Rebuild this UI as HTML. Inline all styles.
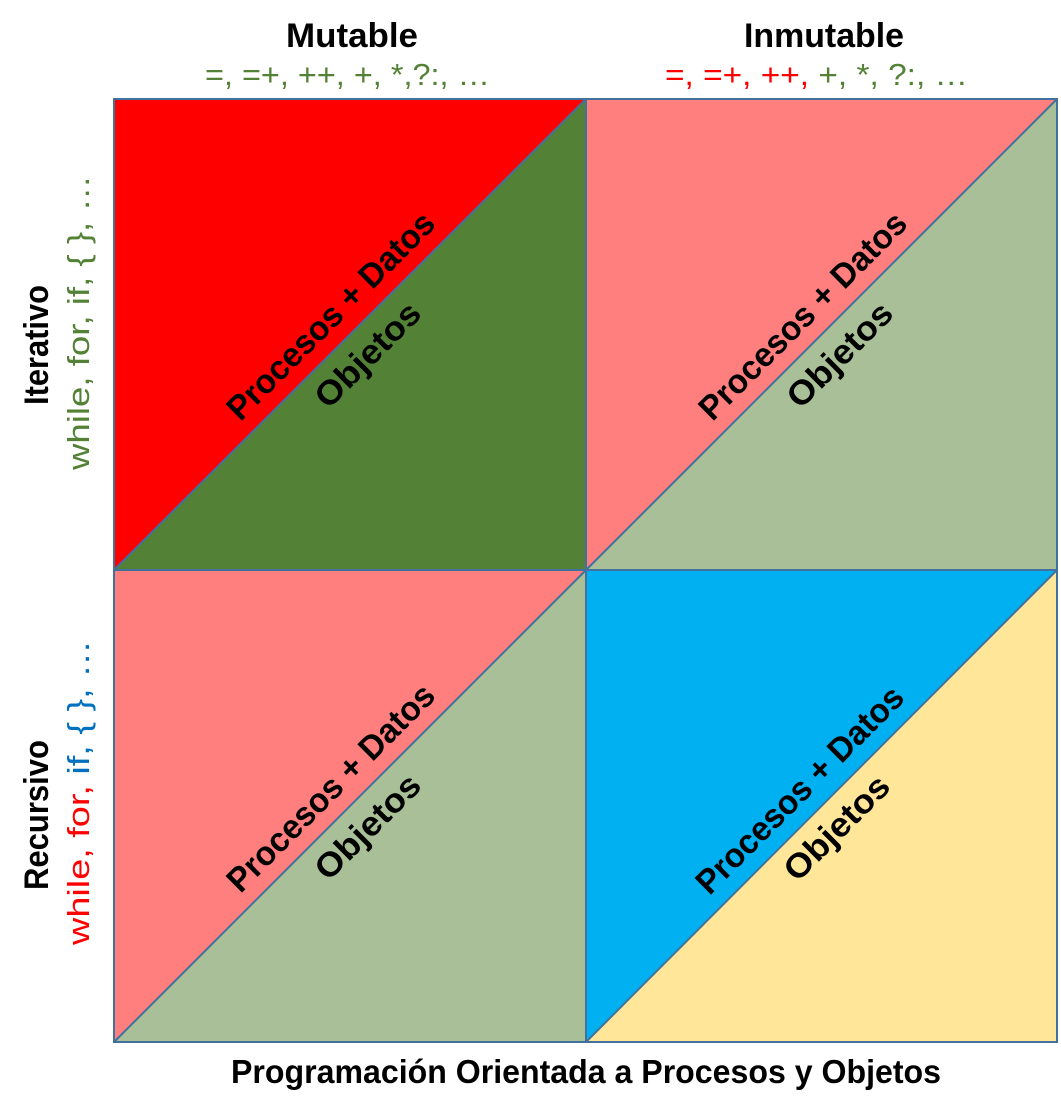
<!DOCTYPE html>
<html><head><meta charset="utf-8"><style>html,body{margin:0;padding:0;background:#fff}svg{display:block}</style></head>
<body>
<svg width="1061" height="1116" viewBox="0 0 1061 1116" xmlns="http://www.w3.org/2000/svg" font-family="'Liberation Sans', sans-serif">
<polygon points="114,99 586,99 114,570" fill="#ff0000"/>
<polygon points="586,99 586,570 114,570" fill="#538135"/>
<polygon points="586,99 1057,99 586,570" fill="#ff7f7f"/>
<polygon points="1057,99 1057,570 586,570" fill="#a9bf98"/>
<polygon points="114,570 586,570 114,1042" fill="#ff7f7f"/>
<polygon points="586,570 586,1042 114,1042" fill="#a9bf98"/>
<polygon points="586,570 1057,570 586,1042" fill="#00b0f0"/>
<polygon points="1057,570 1057,1042 586,1042" fill="#ffe699"/>
<g stroke="#41719c" stroke-width="2" fill="none">
<rect x="114" y="99" width="943" height="943"/>
<line x1="586" y1="99" x2="586" y2="1042"/>
<line x1="114" y1="570" x2="1057" y2="570"/>
<line x1="114" y1="570" x2="586" y2="99"/>
<line x1="586" y1="570" x2="1057" y2="99"/>
<line x1="114" y1="1042" x2="586" y2="570"/>
<line x1="586" y1="1042" x2="1057" y2="570"/>
</g>
<g font-weight="bold" font-size="34" fill="#000" text-anchor="middle" dominant-baseline="central">
<text transform="translate(331,316) rotate(-45)" textLength="278" lengthAdjust="spacingAndGlyphs">Procesos + Datos</text>
<text transform="translate(368,355) rotate(-45)" textLength="134" lengthAdjust="spacingAndGlyphs">Objetos</text>
<text transform="translate(803,316) rotate(-45)" textLength="278" lengthAdjust="spacingAndGlyphs">Procesos + Datos</text>
<text transform="translate(840,355) rotate(-45)" textLength="134" lengthAdjust="spacingAndGlyphs">Objetos</text>
<text transform="translate(331,788) rotate(-45)" textLength="278" lengthAdjust="spacingAndGlyphs">Procesos + Datos</text>
<text transform="translate(368,827) rotate(-45)" textLength="134" lengthAdjust="spacingAndGlyphs">Objetos</text>
<text transform="translate(800,790) rotate(-45)" textLength="278" lengthAdjust="spacingAndGlyphs">Procesos + Datos</text>
<text transform="translate(837,828) rotate(-45)" textLength="134" lengthAdjust="spacingAndGlyphs">Objetos</text>
</g>
<text x="352" y="47" font-weight="bold" font-size="34" text-anchor="middle" textLength="132" lengthAdjust="spacingAndGlyphs">Mutable</text>
<text x="824" y="47" font-weight="bold" font-size="34" text-anchor="middle" textLength="160" lengthAdjust="spacingAndGlyphs">Inmutable</text>
<text x="205" y="85" font-size="31" fill="#538135" textLength="285" lengthAdjust="spacingAndGlyphs">=, =+, ++, +, *,?:, …</text>
<text x="665" y="85" font-size="31" textLength="303" lengthAdjust="spacingAndGlyphs"><tspan fill="#ff0000">=, =+, ++,</tspan><tspan fill="#538135"> +, *, ?:, …</tspan></text>
<text transform="translate(48,345) rotate(-90)" font-weight="bold" font-size="34" text-anchor="middle" textLength="120" lengthAdjust="spacingAndGlyphs">Iterativo</text>
<text transform="translate(89,470) rotate(-90)" font-size="31" fill="#538135" textLength="295" lengthAdjust="spacingAndGlyphs">while, for, if, { }, …</text>
<text transform="translate(48,815) rotate(-90)" font-weight="bold" font-size="34" text-anchor="middle" textLength="150" lengthAdjust="spacingAndGlyphs">Recursivo</text>
<text transform="translate(89,945) rotate(-90)" font-size="31" textLength="305" lengthAdjust="spacingAndGlyphs"><tspan fill="#ff0000">while, for,</tspan><tspan fill="#0070c0"> if, { }, …</tspan></text>
<text x="586" y="1083" font-weight="bold" font-size="33" text-anchor="middle" textLength="710" lengthAdjust="spacingAndGlyphs">Programación Orientada a Procesos y Objetos</text>
</svg>
</body></html>
